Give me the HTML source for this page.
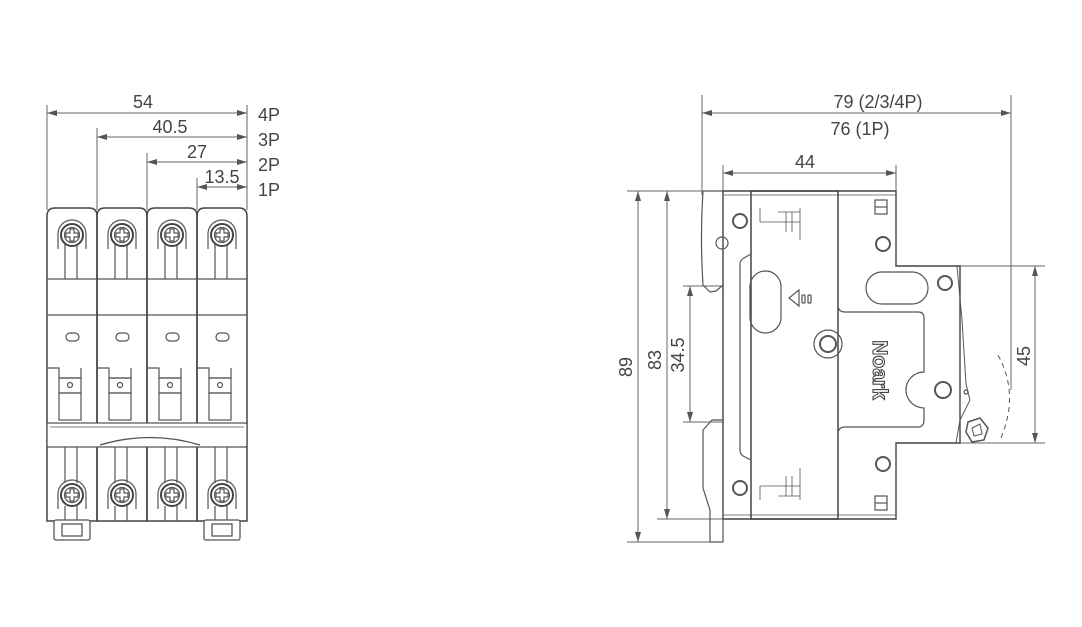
<!DOCTYPE html>
<html><head><meta charset="utf-8"><style>
html,body{margin:0;padding:0;background:#fff;}
svg{display:block;}
text{font-family:"Liberation Sans",sans-serif;fill:#444;}
</style></head><body>
<svg width="1082" height="627" viewBox="0 0 1082 627" xmlns="http://www.w3.org/2000/svg">
<defs>
<marker id="a" viewBox="0 0 10 6" refX="10" refY="3" markerWidth="10" markerHeight="6" orient="auto-start-reverse" markerUnits="userSpaceOnUse"><path d="M0,0L10,3L0,6z" fill="#555"/></marker>
<g id="screw"><path d="M-14,14 L-14,-1 A14,14 0 0 1 14,-1 L14,14" fill="none" stroke="#555" stroke-width="1.2"/><circle r="11" fill="#fff" stroke="#444" stroke-width="2"/><circle r="7.5" fill="none" stroke="#555" stroke-width="1.2"/><path d="M-2,-6h4v4h4v4h-4v4h-4v-4h-4v-4h4z" fill="none" stroke="#555" stroke-width="1.2"/></g>
<g id="mod" fill="none" stroke="#555" stroke-width="1.2">
<path d="M0,8 Q0,0 8,0 L42,0 Q50,0 50,8 L50,313 L0,313 Z" stroke="#444" stroke-width="1.5"/>
<line x1="0" y1="71" x2="50" y2="71"/><line x1="0" y1="107" x2="50" y2="107"/>
<line x1="18" y1="30" x2="18" y2="71"/><line x1="30" y1="30" x2="30" y2="71"/>
<rect x="19" y="125" width="13" height="8" rx="4"/>
<path d="M0,160h12v10h22v-10"/><rect x="12" y="170" width="22" height="15"/><circle cx="23" cy="177" r="2.5"/>
<rect x="12" y="185" width="22" height="27"/>
<line x1="18" y1="237" x2="18" y2="275"/><line x1="30" y1="237" x2="30" y2="275"/>
<line x1="18" y1="298" x2="18" y2="313"/><line x1="30" y1="298" x2="30" y2="313"/>
</g>
</defs>
<g stroke="#666" stroke-width="1" fill="none">
<line x1="47" y1="105" x2="47" y2="210"/><line x1="247" y1="105" x2="247" y2="210"/>
<line x1="97" y1="128" x2="97" y2="210"/><line x1="147" y1="153" x2="147" y2="210"/><line x1="197" y1="178" x2="197" y2="210"/>
<line x1="47" y1="113" x2="247" y2="113" marker-start="url(#a)" marker-end="url(#a)"/>
<line x1="97" y1="137" x2="247" y2="137" marker-start="url(#a)" marker-end="url(#a)"/>
<line x1="147" y1="162" x2="247" y2="162" marker-start="url(#a)" marker-end="url(#a)"/>
<line x1="197" y1="187" x2="247" y2="187" marker-start="url(#a)" marker-end="url(#a)"/>
</g>
<text x="143" y="108" font-size="18" text-anchor="middle">54</text>
<text x="170" y="133" font-size="18" text-anchor="middle">40.5</text>
<text x="197" y="158" font-size="18" text-anchor="middle">27</text>
<text x="222" y="183" font-size="18" text-anchor="middle">13.5</text>
<text x="258" y="121" font-size="18">4P</text><text x="258" y="146" font-size="18">3P</text>
<text x="258" y="171" font-size="18">2P</text><text x="258" y="196" font-size="18">1P</text>
<g transform="translate(47,208)"><use href="#mod"/><use href="#screw" x="25" y="27"/><use href="#screw" x="25" y="287"/></g>
<g transform="translate(97,208)"><use href="#mod"/><use href="#screw" x="25" y="27"/><use href="#screw" x="25" y="287"/></g>
<g transform="translate(147,208)"><use href="#mod"/><use href="#screw" x="25" y="27"/><use href="#screw" x="25" y="287"/></g>
<g transform="translate(197,208)"><use href="#mod"/><use href="#screw" x="25" y="27"/><use href="#screw" x="25" y="287"/></g>
<g fill="#fff" stroke="#555" stroke-width="1.3">
<rect x="47" y="423" width="200" height="24" rx="2"/>
<line x1="50" y1="427" x2="244" y2="427" stroke-width="0.8"/>
<path d="M100,445 Q150,430 200,445" fill="none"/>
<rect x="54" y="520" width="36" height="20" rx="2"/><rect x="62" y="524" width="20" height="12" fill="none"/>
<rect x="204" y="520" width="36" height="20" rx="2"/><rect x="212" y="524" width="20" height="12" fill="none"/>
</g>
<g stroke="#666" stroke-width="1" fill="none">
<line x1="702" y1="95" x2="702" y2="195"/><line x1="1011" y1="95" x2="1011" y2="390"/>
<line x1="702" y1="113" x2="1011" y2="113" marker-start="url(#a)" marker-end="url(#a)"/>
<line x1="723" y1="165" x2="723" y2="195"/><line x1="896" y1="165" x2="896" y2="195"/>
<line x1="723" y1="173" x2="896" y2="173" marker-start="url(#a)" marker-end="url(#a)"/>
<line x1="627" y1="191" x2="723" y2="191"/><line x1="627" y1="542" x2="723" y2="542"/><line x1="657" y1="519" x2="723" y2="519"/>
<line x1="683" y1="286" x2="723" y2="286"/><line x1="683" y1="422" x2="723" y2="422"/>
<line x1="638" y1="191" x2="638" y2="542" marker-start="url(#a)" marker-end="url(#a)"/>
<line x1="667" y1="191" x2="667" y2="519" marker-start="url(#a)" marker-end="url(#a)"/>
<line x1="690" y1="286" x2="690" y2="422" marker-start="url(#a)" marker-end="url(#a)"/>
<line x1="960" y1="266" x2="1045" y2="266"/><line x1="960" y1="443" x2="1045" y2="443"/>
<line x1="1035" y1="266" x2="1035" y2="443" marker-start="url(#a)" marker-end="url(#a)"/>
</g>
<text x="878" y="108" font-size="18" text-anchor="middle">79 (2/3/4P)</text>
<text x="860" y="135" font-size="18" text-anchor="middle">76 (1P)</text>
<text x="805" y="168" font-size="18" text-anchor="middle">44</text>
<text font-size="18" text-anchor="middle" transform="translate(632,367) rotate(-90)">89</text>
<text font-size="18" text-anchor="middle" transform="translate(661,360) rotate(-90)">83</text>
<text font-size="18" text-anchor="middle" transform="translate(684,355) rotate(-90)">34.5</text>
<text font-size="18" text-anchor="middle" transform="translate(1030,356) rotate(-90)">45</text>
<g fill="none" stroke="#555" stroke-width="1.2">
<path d="M723,191 L896,191 L896,266 L960,266 L960,443 L896,443 L896,519 L723,519 Z" stroke="#444" stroke-width="1.4"/>
<line x1="723" y1="195" x2="896" y2="195" stroke-width="0.8"/>
<line x1="723" y1="515" x2="896" y2="515" stroke-width="0.8"/>
<rect x="751" y="191" width="87" height="328" stroke="#444" stroke-width="1.5"/>
<path d="M751,254 L744,258 Q740,260 740,264 L740,450 Q740,455 745,457 L751,460"/>
<path d="M838,305 Q838,312 845,312 L918,312 Q924,312 924,318 L924,372 A17,17 0 0 0 924,408 L924,420 Q924,427 918,427 L845,427 Q838,427 838,434"/>
<rect x="750" y="271" width="31" height="62" rx="15.5"/>
<rect x="866" y="272" width="62" height="32" rx="16"/>
<path d="M799,290 L789,298 L799,306 Z"/><rect x="802" y="295" width="3" height="8" rx="1"/><rect x="808" y="295" width="3" height="8" rx="1"/>
<circle cx="828" cy="344" r="14"/><circle cx="828" cy="344" r="8" stroke-width="2"/>
<circle cx="740" cy="221" r="7" stroke-width="2"/><circle cx="722" cy="243" r="6"/>
<circle cx="883" cy="244" r="7" stroke-width="2"/><circle cx="945" cy="283" r="7" stroke-width="2"/>
<circle cx="943" cy="390" r="8" stroke-width="2"/><circle cx="966" cy="392" r="2"/>
<circle cx="883" cy="464" r="7" stroke-width="2"/><circle cx="740" cy="488" r="7" stroke-width="2"/>
<rect x="875" y="200" width="12" height="14"/><line x1="875" y1="207" x2="887" y2="207"/>
<rect x="875" y="496" width="12" height="14"/><line x1="875" y1="503" x2="887" y2="503"/>
<path d="M703,191 L723,191 M703,191 Q700,240 703,285 L710,292 L716,291 L723,285"/>
<path d="M723,285 L723,519"/>
<path d="M703,430 L712,420 L723,420 M703,430 L703,488 L710,510 L710,542 L723,542 L723,519"/>
<path d="M957,266 L962,320 L966,384 L970,400 L960,420 L956,443" stroke-width="1"/>
<path d="M998,355 Q1020,395 1000,440" stroke-dasharray="5,4" stroke-width="1"/>
<path d="M968,422 L980,418 L988,428 L984,440 L972,442 L966,432 Z" stroke-width="1.5"/>
<path d="M972,428 L980,424 L982,434 L974,436 Z" stroke-width="1"/>
<path d="M760,208 L760,222 M760,222 L800,222 M786,212 L786,232 M792,212 L792,232 M800,208 L800,240 M778,212 L800,212" stroke-width="0.8"/>
<path d="M760,486 L760,500 M760,486 L800,486 M786,476 L786,496 M792,476 L792,496 M800,468 L800,500 M778,496 L800,496" stroke-width="0.8"/>
</g>
<text font-size="21" font-weight="bold" stroke="#444" stroke-width="1.1" text-anchor="middle" transform="translate(873,370) rotate(90)" style="fill:#fff">Noark</text>
</svg>
</body></html>
